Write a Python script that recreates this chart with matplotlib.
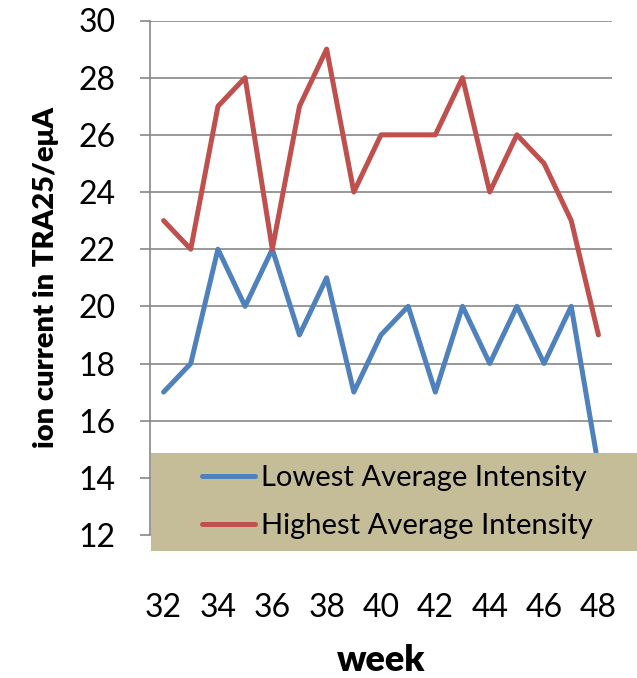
import numpy as np
import matplotlib
matplotlib.use("Agg")
from matplotlib import pyplot as plt
from matplotlib.patches import Rectangle

weeks = [32, 33, 34, 35, 36, 37, 38, 39, 40, 41, 42, 43, 44, 45, 46, 47, 48]
lowest = [17, 18, 22, 20, 22, 19, 21, 17, 19, 20, 17, 20, 18, 20, 18, 20, 14.4]
highest = [23, 22, 27, 28, 22, 27, 29, 24, 26, 26, 26, 28, 24, 26, 25, 23, 19]
xticks = [32, 34, 36, 38, 40, 42, 44, 46, 48]
yticks = [12, 14, 16, 18, 20, 22, 24, 26, 28, 30]

plt.rcParams['font.family'] = ['Lato', 'DejaVu Sans']

W, H = 637, 678
fig = plt.figure(figsize=(W/100, H/100), dpi=100)
ax = fig.add_axes([150/W, 1-535/H, 462/W, (535-20.5)/H])

ax.plot(weeks, lowest, color='#4F81BD', lw=3.6, label='Lowest Average Intensity',
        solid_joinstyle='round', solid_capstyle='round')
ax.plot(weeks, highest, color='#C0504D', lw=3.6, label='Highest Average Intensity',
        solid_joinstyle='round', solid_capstyle='round')

ax.set_xlim(31.5, 48.5)
ax.set_ylim(12, 30)
ax.set_xticks(xticks)
ax.set_yticks(yticks)
ax.grid(axis='y', color='#878787', lw=1.2)
ax.set_axisbelow(True)
for s in ['top', 'right', 'bottom']:
    ax.spines[s].set_visible(False)
ax.spines['left'].set_color('#878787')
ax.spines['left'].set_linewidth(1.2)
ax.tick_params(axis='y', length=7, color='#878787', width=1.2, labelsize=23, pad=18)
ax.tick_params(axis='x', length=0, labelsize=23, pad=42)
ax.set_ylabel('ion current in TRA25/eμA', fontsize=21, fontweight='heavy', labelpad=14)
ax.set_xlabel('week', fontsize=26, fontweight='heavy', labelpad=15)

# legend box sits over the lower part of the plot
fig.patches.append(Rectangle((151/W, 1-551/H), (W-151)/W, 98/H, transform=fig.transFigure,
                             facecolor='#C4BD97', edgecolor='none', zorder=5))
leg = fig.legend(loc='center left', bbox_to_anchor=(176/W, 1-502/H), frameon=False,
                 fontsize=21, handlelength=1.8, handletextpad=0.2, labelspacing=0.75)
leg.set_zorder(6)

fig.savefig('out.png', dpi=100)
